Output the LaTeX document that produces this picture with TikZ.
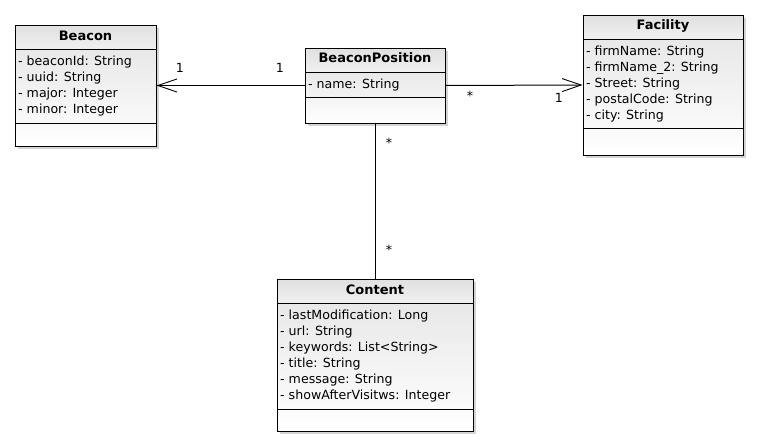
\documentclass[tikz,border=0pt]{standalone}
\usepackage{fontspec}
\setmainfont{DejaVu Sans}
\usetikzlibrary{arrows.meta}
\tikzset{
  boxline/.style={draw=black, line width=1pt},
  attr/.style={anchor=west, inner sep=0pt, yshift=-1.5pt, font=\fontsize{12.6}{14}\selectfont},
  head/.style={inner sep=0pt, font=\fontsize{13}{14}\selectfont\bfseries},
  mult/.style={inner sep=0pt, font=\fontsize{12.6}{14}\selectfont},
  assoc/.style={draw=black, line width=1pt, -{Straight Barb[length=19pt,width=13pt,line width=0.9pt]}},
}
% name, x1, y1, x2, y2, header separator y, attribute separator y
\newcommand\umlcls[7]{%
  \fill[black!30, opacity=0.55] (#2+3,#3+3) rectangle (#4+3,#5+3);
  \shade[top color=black!12, bottom color=black!6] (#2,#3) rectangle (#4,#6);
  \shade[top color=black!9, bottom color=white] (#2,#6) rectangle (#4,#5);
  \node[boxline, inner sep=0pt, minimum width={#4pt-#2pt}, minimum height={#5pt-#3pt}]
    (#1) at ({(#2+#4)/2},{(#3+#5)/2}) {};
  \draw[boxline] (#2,#6) -- (#4,#6);
  \draw[boxline] (#2,#7) -- (#4,#7);
}
\begin{document}
\begin{tikzpicture}[x=1pt,y=-1pt]
\useasboundingbox[fill=white] (0,0) rectangle (758,447);

% Beacon
\umlcls{beacon}{15}{25}{156}{146}{49}{123}
\node[head] (beaconT) at (85.5,36) {Beacon};
\node[attr] (b1) at (18,61) {- beaconId: String};
\node[attr] (b2) at (18,77) {- uuid: String};
\node[attr] (b3) at (18,93) {- major: Integer};
\node[attr] (b4) at (18,109) {- minor: Integer};

% BeaconPosition
\umlcls{bpos}{305}{48}{445}{123}{72}{97}
\node[head] (bposT) at (375,58) {BeaconPosition};
\node[attr] (p1) at (308,84) {- name: String};

% Facility
\umlcls{facility}{583}{15}{743}{155}{39}{128}
\node[head] (facT) at (663,26) {Facility};
\node[attr] (f1) at (586,51) {- firmName: String};
\node[attr] (f2) at (586,67) {- firmName\_2: String};
\node[attr] (f3) at (586,83) {- Street: String};
\node[attr] (f4) at (586,99) {- postalCode: String};
\node[attr] (f5) at (586,115) {- city: String};

% Content
\umlcls{content}{277}{279}{473}{431}{303}{409}
\node[head] (conT) at (375,290) {Content};
\node[attr] (c1) at (280,315) {- lastModification: Long};
\node[attr] (c2) at (280,331) {- url: String};
\node[attr] (c3) at (280,347) {- keywords: List<String>};
\node[attr] (c4) at (280,363) {- title: String};
\node[attr] (c5) at (280,379) {- message: String};
\node[attr] (c6) at (280,395) {- showAfterVisitws: Integer};

% associations
\draw[assoc] (bpos.west) -- (beacon.east);
\draw[assoc] (bpos.east) -- (facility.west);
\draw[boxline] (bpos.south) -- (content.north);

% multiplicities
\node[mult] (m1) at (180,68) {1};
\node[mult] (m2) at (280,68) {1};
\node[mult] (m3) at (470,96) {*};
\node[mult] (m4) at (559,98) {1};
\node[mult] (m5) at (389,143) {*};
\node[mult] (m6) at (389,250) {*};
\end{tikzpicture}
\end{document}
